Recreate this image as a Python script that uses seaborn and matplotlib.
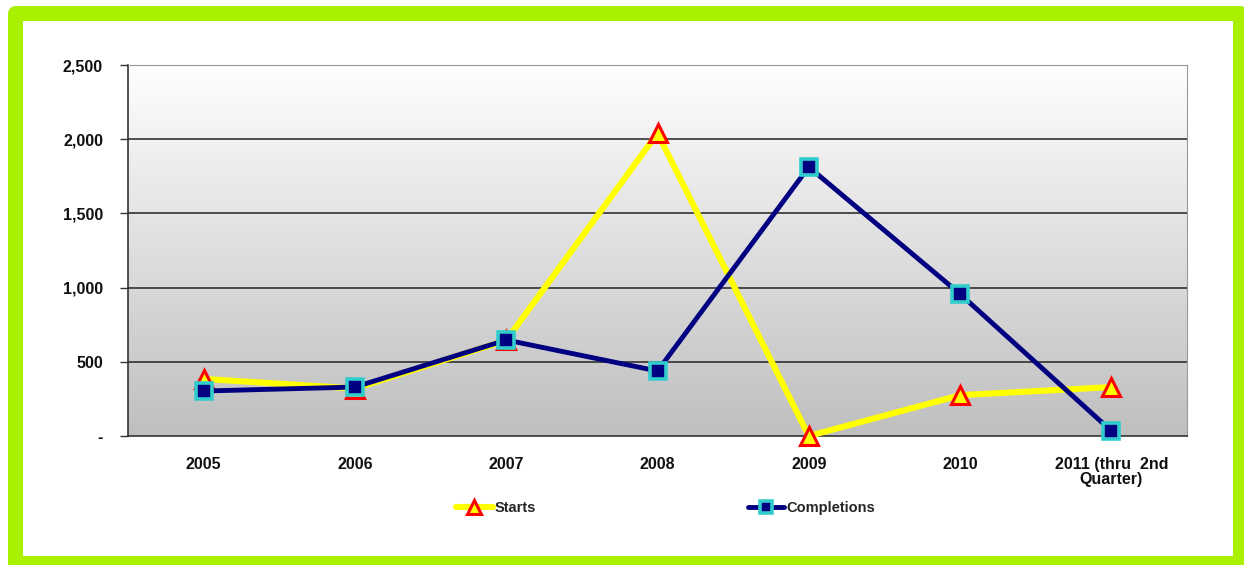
import numpy as np
import pandas as pd
import matplotlib.pyplot as plt
import seaborn as sns
from matplotlib.patches import Rectangle
from matplotlib.colors import LinearSegmentedColormap

# values
years = ["2005", "2006", "2007", "2008", "2009", "2010", "2011 (thru  2nd\nQuarter)"]
starts = [385, 320, 645, 2040, 0, 275, 330]
completions = [303, 330, 647, 438, 1813, 957, 34]
y_ticks = [0, 500, 1000, 1500, 2000, 2500]
y_labels = ["-", "500", "1,000", "1,500", "2,000", "2,500"]

sns.set_style("white")
plt.rcParams["font.family"] = ["Liberation Sans", "DejaVu Sans"]

df = pd.DataFrame({"pos": np.arange(len(years)), "Starts": starts, "Completions": completions})

fig = plt.figure(figsize=(12.44, 5.65), dpi=100)
ax = fig.add_axes([0.1029, 0.2283, 0.8513, 0.6566])

# green frame around the chart
frame = Rectangle((15 / 1244, 1 - 563 / 565), 1225 / 1244, 550 / 565,
                  transform=fig.transFigure, facecolor="none", edgecolor="#A8F000",
                  linewidth=10.8, joinstyle="round", zorder=-1)
fig.patches.append(frame)

# gradient background of the plot area
grad = np.linspace(0, 1, 256).reshape(-1, 1)
cmap = LinearSegmentedColormap.from_list("bg", ["#FEFEFE", "#BFBFBF"])
ax.imshow(grad, aspect="auto", cmap=cmap, extent=[0, 1, 0, 1],
          transform=ax.transAxes, zorder=0)

for y in y_ticks[1:-1]:
    ax.axhline(y, color="#222222", lw=1.1, zorder=1)

sns.lineplot(data=df, x="pos", y="Starts", ax=ax, color="#FFFF00", lw=4.4,
             marker="^", markersize=12.5, markerfacecolor="#FFFF00",
             markeredgecolor="#FF0000", markeredgewidth=2.2, label="Starts",
             zorder=3, clip_on=False)
sns.lineplot(data=df, x="pos", y="Completions", ax=ax, color="#000080", lw=3.5,
             marker="s", markersize=12, markerfacecolor="#000080",
             markeredgecolor="#33CCCC", markeredgewidth=2.6, label="Completions",
             zorder=4, clip_on=False)

ax.set_xlim(-0.5, len(years) - 0.5)
ax.set_ylim(0, 2500)
ax.set_xticks(df["pos"])
ax.set_xticklabels(years, fontsize=11.5, fontweight="bold", color="#111111", linespacing=1.05)
ax.set_xticks(np.arange(-0.5, len(years)), minor=True)
ax.tick_params(axis="x", which="major", length=0, pad=15)
ax.tick_params(axis="x", which="minor", length=6, width=1, color="#333333", direction="out")
ax.set_yticks(y_ticks)
ax.set_yticklabels(y_labels, fontsize=11.5, fontweight="bold", color="#111111")
ax.tick_params(axis="y", length=6, width=1, color="#333333", direction="out", pad=12, left=True)
ax.set_xlabel("")
ax.set_ylabel("")

for side in ["left", "bottom"]:
    ax.spines[side].set_color("#333333")
    ax.spines[side].set_linewidth(1.2)
for side in ["top", "right"]:
    ax.spines[side].set_color("#999999")
    ax.spines[side].set_linewidth(0.8)

handles, labels = ax.get_legend_handles_labels()
ax.get_legend().remove()
fig.legend(handles, labels, loc="center", bbox_to_anchor=(0.535, 0.101), ncol=2,
           frameon=False, prop={"weight": "bold", "size": 10.5},
           handlelength=2.5, handletextpad=0.15, columnspacing=14.5, markerscale=0.75)

fig.savefig("out.png", dpi=100)
